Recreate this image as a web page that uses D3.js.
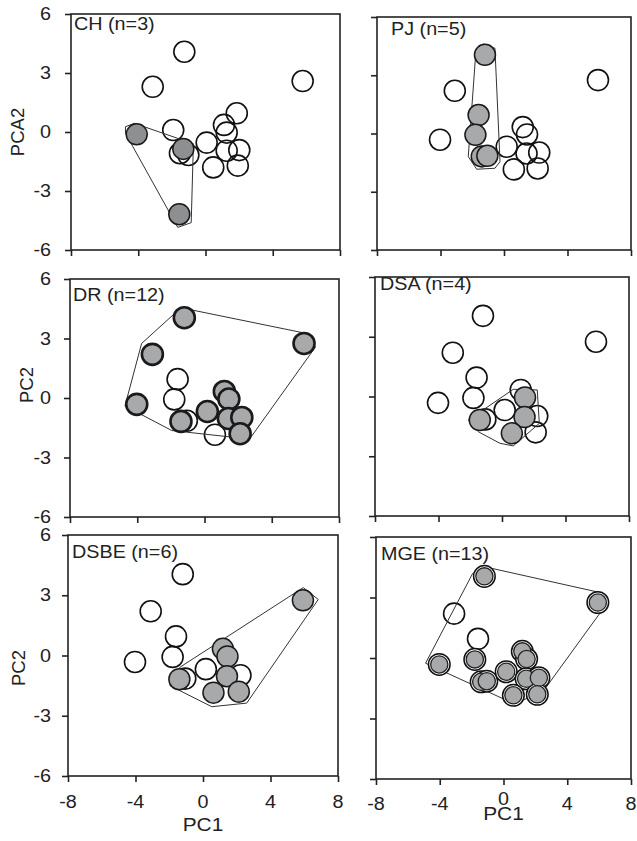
<!DOCTYPE html>
<html><head><meta charset="utf-8">
<script src="https://cdn.jsdelivr.net/npm/d3@7"></script>
<style>body{margin:0;background:#fff;} text{font-family:"Liberation Sans",Arial,sans-serif;fill:#222;}</style>
</head><body><svg id="c" width="637" height="841"></svg>
<script>
// ---------- data ----------
const panelTitles = ["CH (n=3)", "PJ (n=5)", "DR (n=12)", "DSA (n=4)", "DSBE (n=6)", "MGE (n=13)"];
const xTicks = [-8, -4, 0, 4, 8];
const yTicks = [-6, -3, 0, 3, 6];
const xAxisTitle = "PC1";
const yAxisTitles = ["PCA2", "PC2", "PC2"];

// common samples (PC1, PC2)
const pc1 = [-1.2, -3.1, -1.6, -1.8, -4.03, -1.4, -1.05, 0.17, 1.18, 1.45, 1.42, 2.22, 0.62, 2.12, 5.92];
const pc2 = [4.05, 2.2, 0.95, -0.07, -0.32, -1.18, -1.15, -0.68, 0.33, -0.05, -1.03, -0.98, -1.85, -1.8, 2.75];

// CH panel samples
const chPC1 = [-1.26, -3.14, 5.78, 1.86, -1.92, 1.1, 1.26, 0.07, 1.26, 2.01, 0.46, 1.92, -1.52, -1.02, -4.09, -1.32, -1.56];
const chPC2 = [4.08, 2.3, 2.59, 0.95, 0.1, 0.36, -0.03, -0.54, -0.95, -0.92, -1.8, -1.71, -1.08, -1.17, -0.12, -0.86, -4.18];
const chFilled = [14, 15, 16];

const pjFilled = [0, 2, 3, 5, 6];
const drFilled = [0, 1, 4, 5, 7, 8, 9, 10, 11, 13, 14];
const dsaFilled = [5, 9, 10, 12];
const dsbeFilled = [5, 8, 9, 10, 12, 13, 14];
const mgeFilled = [0, 3, 4, 5, 6, 7, 8, 9, 10, 11, 12, 13, 14];

// hull outlines (PC1, PC2)
const hullCH = [[-4.76, 0.27], [-4.23, 0.44], [-0.72, -0.6], [-0.85, -4.61], [-1.65, -4.85], [-4.76, -0.07]];
const hullPJ = [[-1.76, 4.34], [-1.3, 4.61], [-0.57, 4.39], [-0.25, -1.45], [-0.57, -1.79], [-1.72, -1.84], [-2.25, -1.19]];
const hullDR = [[-3.74, 2.75], [-1.4, 4.55], [5.92, 3.28], [6.6, 2.57], [2.68, -2.07], [-1.95, -1.64], [-4.73, -0.4]];
const hullDSA = [[-2.12, -1.18], [0.71, 0.36], [2.22, 0.33], [2.35, -1.35], [0.71, -2.48], [-0.13, -2.35], [-1.49, -1.77]];
const hullDSBE = [[-1.96, -1.5], [-1.36, -0.58], [5.94, 3.38], [6.83, 2.79], [2.59, -2.37], [0.52, -2.55]];
const hullMGE = [[-1.93, 4.2], [-1.05, 4.5], [6.26, 3.21], [6.57, 2.79], [2.4, -1.75], [0.61, -2.25], [-4.89, -0.26]];

// ---------- layout / style ----------
const layout = [
  {l: 71, r: 340, t: 14, b: 250, tdx: 3, tdy: 16, fill: "#8e8f91", mode: "plain"},
  {l: 377, r: 631, t: 17, b: 250, tdx: 14, tdy: 18, fill: "#a8a9ab", mode: "plain"},
  {l: 70, r: 339, t: 279, b: 517, tdx: 3, tdy: 22, fill: "#a8a9ab", mode: "thick"},
  {l: 375, r: 629, t: 277, b: 516, tdx: 5, tdy: 13, fill: "#a8a9ab", mode: "plain"},
  {l: 68, r: 338, t: 535, b: 776, tdx: 4, tdy: 23, fill: "#a8a9ab", mode: "plain"},
  {l: 376, r: 631, t: 537, b: 779, tdx: 5, tdy: 23, fill: "#a8a9ab", mode: "double"}
];
const R = 10.5;
const SX = 1.13;

function samples(xs, ys, filled) {
  return xs.map((x, i) => ({x, y: ys[i], f: filled.includes(i)}));
}
const panelData = [
  {pts: samples(chPC1, chPC2, chFilled), hull: hullCH},
  {pts: samples(pc1, pc2, pjFilled), hull: hullPJ},
  {pts: samples(pc1, pc2, drFilled), hull: hullDR},
  {pts: samples(pc1, pc2, dsaFilled), hull: hullDSA},
  {pts: samples(pc1, pc2, dsbeFilled), hull: hullDSBE},
  {pts: samples(pc1, pc2, mgeFilled), hull: hullMGE}
];

const svg = d3.select("#c");

function stretchedText(parent, x, y, str, size, anchor) {
  return parent.append("text")
    .attr("transform", `translate(${x},${y}) scale(${SX},1)`)
    .attr("text-anchor", anchor)
    .attr("font-size", size)
    .text(str);
}

panelData.forEach((pd, i) => {
  const L = layout[i];
  const x = d3.scaleLinear().domain([-8, 8]).range([L.l, L.r]);
  const y = d3.scaleLinear().domain([-6, 6]).range([L.b, L.t]);
  const g = svg.append("g");

  // open circles
  g.selectAll("circle.o").data(pd.pts.filter(p => !p.f)).join("circle")
    .attr("cx", p => x(p.x)).attr("cy", p => y(p.y)).attr("r", R)
    .attr("fill", "none").attr("stroke", "#111").attr("stroke-width", 1.6);

  // hull
  g.append("path")
    .attr("d", d3.line().x(d => x(d[0])).y(d => y(d[1]))(pd.hull) + "Z")
    .attr("fill", "none").attr("stroke", "#333").attr("stroke-width", 1);

  // filled circles
  const fp = pd.pts.filter(p => p.f);
  if (L.mode === "double") {
    g.selectAll("circle.ring").data(fp).join("circle")
      .attr("cx", p => x(p.x)).attr("cy", p => y(p.y)).attr("r", 10.8)
      .attr("fill", "#fff").attr("stroke", "#111").attr("stroke-width", 1.5);
    g.selectAll("circle.f").data(fp).join("circle")
      .attr("cx", p => x(p.x)).attr("cy", p => y(p.y)).attr("r", 8.6)
      .attr("fill", L.fill).attr("stroke", "#222").attr("stroke-width", 1.3);
  } else {
    g.selectAll("circle.f").data(fp).join("circle")
      .attr("cx", p => x(p.x)).attr("cy", p => y(p.y)).attr("r", R)
      .attr("fill", L.fill).attr("stroke", "#1a1a1a")
      .attr("stroke-width", L.mode === "thick" ? 2.6 : 1.5);
  }

  // frame
  g.append("rect").attr("x", L.l).attr("y", L.t)
    .attr("width", L.r - L.l).attr("height", L.b - L.t)
    .attr("fill", "none").attr("stroke", "#222").attr("stroke-width", 1.6);

  // axes ticks
  const ax = g.append("g").attr("transform", `translate(0,${L.b})`)
    .call(d3.axisBottom(x).tickValues(xTicks).tickSize(6).tickSizeOuter(0).tickFormat(""));
  const ay = g.append("g").attr("transform", `translate(${L.l},0)`)
    .call(d3.axisLeft(y).tickValues(yTicks).tickSize(6).tickSizeOuter(0).tickFormat(""));
  [ax, ay].forEach(a => {
    a.select(".domain").remove();
    a.selectAll("line").attr("stroke", "#222").attr("stroke-width", 1.6);
  });

  // title
  stretchedText(g, L.l + L.tdx, L.t + L.tdy, panelTitles[i], 17.5, "start");

  // y tick labels (left column)
  if (i % 2 === 0) {
    yTicks.forEach(t => {
      stretchedText(g, 51, y(t) + 6.2, String(t), 17.5, "end");
    });
  }
  // x tick labels (bottom row)
  if (i >= 4) {
    const base = i === 4 ? L.b + 32 : L.b + 31;
    xTicks.forEach(t => {
      const lift = (i === 5 && t === 0) ? -5 : 0;
      stretchedText(g, x(t), base + lift, String(t), 17.5, "middle");
    });
    stretchedText(g, x(0), i === 4 ? 831 : 820, xAxisTitle, 18.5, "middle");
  }
});

// y axis titles
const yTitlePos = [[24, 132], [33, 385], [25, 668]];
yAxisTitles.forEach((t, k) => {
  svg.append("text")
    .attr("transform", `translate(${yTitlePos[k][0]},${yTitlePos[k][1]}) rotate(-90)`)
    .attr("text-anchor", "middle").attr("font-size", 18.5).text(t);
});
</script>
</body></html>
